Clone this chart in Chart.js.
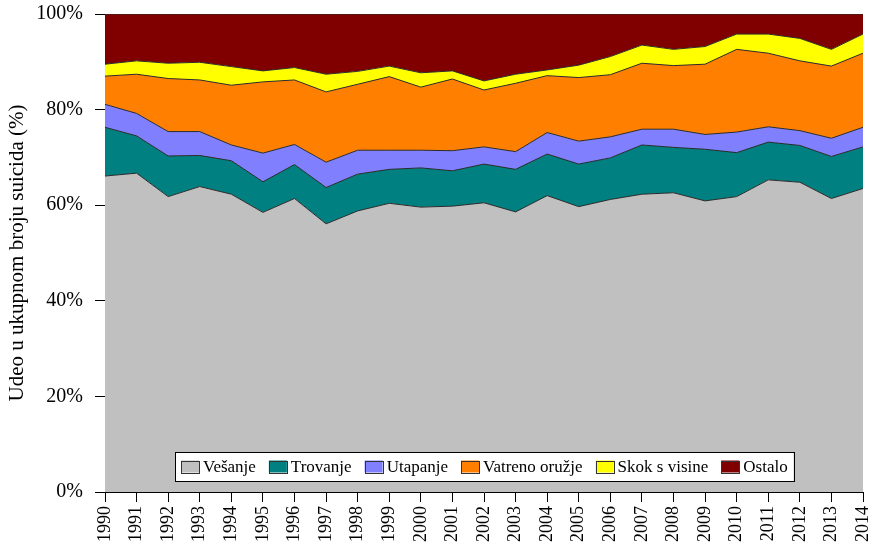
<!DOCTYPE html>
<html lang="sr">
<head>
<meta charset="UTF-8">
<title>Udeo u ukupnom broju suicida</title>
<script src="https://cdn.jsdelivr.net/npm/chart.js"></script>
<style>
  html, body { margin: 0; padding: 0; background: #fff; }
  #wrap { width: 872px; height: 548px; position: relative; }
</style>
</head>
<body>
<div id="wrap"><canvas id="c"></canvas></div>
<script>
// godine
const years = ['1990','1991','1992','1993','1994','1995','1996','1997','1998','1999','2000','2001','2002',
               '2003','2004','2005','2006','2007','2008','2009','2010','2011','2012','2013','2014'];

// udeo po nacinu (%), ocitano sa slike
const vesanje  = [66.1,66.7,61.8,63.9,62.3,58.5,61.4,56.1,58.8,60.4,59.6,59.8,60.5,58.6,62.0,59.7,61.2,62.3,62.6,60.9,61.8,65.3,64.8,61.4,63.5];
const trovanje = [10.2,7.8,8.5,6.5,7.0,6.4,7.1,7.6,7.7,7.1,8.2,7.4,8.1,8.9,8.7,8.9,8.7,10.3,9.5,10.8,9.2,7.9,7.7,8.8,8.7];
const utapanje = [4.8,4.7,5.1,5.0,3.3,6.0,4.2,5.3,5.0,4.0,3.7,4.2,3.6,3.7,4.5,4.8,4.4,3.3,3.8,3.1,4.3,3.2,3.1,3.8,4.1];
const vatreno  = [5.9,8.2,11.1,10.8,12.5,14.9,13.5,14.7,13.8,15.4,13.2,15.0,11.9,14.3,11.9,13.3,13.0,13.8,13.3,14.7,17.3,15.4,14.6,15.1,15.5];
const skok     = [2.5,2.8,3.2,3.7,3.9,2.3,2.6,3.7,2.7,2.2,3.0,1.7,1.9,1.9,1.2,2.6,3.8,3.8,3.4,3.7,3.2,4.0,4.7,3.5,4.0];
const ostalo   = [10.5,9.8,10.3,10.1,11.0,11.9,11.2,12.6,12.0,10.9,12.3,11.9,14.0,12.6,11.7,10.7,8.9,6.5,7.4,6.8,4.2,4.2,5.1,7.4,4.2];

const yTicks = [0, 20, 40, 60, 80, 100];

const FONT = '"Liberation Serif", "Times New Roman", serif';

function area(label, data, color, fill) {
  return {
    label: label,
    data: data,
    backgroundColor: color,
    borderColor: '#2a2a2a',
    borderWidth: 1,
    pointRadius: 0,
    tension: 0,
    fill: fill
  };
}

// legenda unutar grafika
const innerLegend = {
  id: 'innerLegend',
  afterDraw(chart) {
    const ctx = chart.ctx;
    const ca = chart.chartArea;
    ctx.save();
    ctx.font = '17px ' + FONT;
    const sw = 18, sh = 12, gap = 4, itemGap = 13, padX = 6;
    const items = chart.data.datasets.map(d => ({ label: d.label, color: d.backgroundColor, w: ctx.measureText(d.label).width }));
    let total = padX * 2;
    items.forEach((it, i) => { total += sw + gap + it.w + (i < items.length - 1 ? itemGap : 0); });
    const boxTop = ca.bottom - 40, boxH = 29;
    const boxLeft = Math.round((ca.left + ca.right) / 2 - total / 2);
    ctx.fillStyle = '#fff';
    ctx.fillRect(boxLeft, boxTop, total, boxH);
    ctx.strokeStyle = '#000';
    ctx.lineWidth = 1;
    ctx.strokeRect(boxLeft + 0.5, boxTop + 0.5, Math.round(total), boxH);
    let x = boxLeft + padX;
    const cy = boxTop + boxH / 2;
    ctx.textBaseline = 'middle';
    items.forEach(it => {
      ctx.fillStyle = it.color;
      ctx.fillRect(x, cy - sh / 2, sw, sh);
      ctx.strokeStyle = '#333';
      ctx.strokeRect(Math.round(x) + 0.5, Math.round(cy - sh / 2) + 0.5, sw, sh);
      x += sw + gap;
      ctx.fillStyle = '#000';
      ctx.fillText(it.label, x, cy + 1);
      x += it.w + itemGap;
    });
    ctx.restore();
  }
};

new Chart(document.getElementById('c'), {
  type: 'line',
  data: {
    labels: years,
    datasets: [
      area('Vešanje', vesanje, '#C0C0C0', 'origin'),
      area('Trovanje', trovanje, '#008080', '-1'),
      area('Utapanje', utapanje, '#8080FF', '-1'),
      area('Vatreno oružje', vatreno, '#FF8000', '-1'),
      area('Skok s visine', skok, '#FFFF00', '-1'),
      area('Ostalo', ostalo, '#800000', '-1')
    ]
  },
  options: {
    responsive: true,
    maintainAspectRatio: false,
    animation: false,
    layout: { padding: { top: 14, right: 9, left: 0, bottom: 0 } },
    plugins: {
      legend: { display: false },
      tooltip: { enabled: false }
    },
    elements: { line: { clip: false } },
    scales: {
      x: {
        offset: false,
        grid: { drawOnChartArea: false, drawTicks: true, tickLength: 10, color: '#000' },
        border: { display: true, color: '#000', width: 1 },
        ticks: {
          color: '#000',
          font: { family: FONT, size: 18 },
          minRotation: 90,
          maxRotation: 90,
          autoSkip: false,
          padding: 4
        },
        afterFit(scale) {
          scale.height = 56;
          scale.paddingLeft = 0;
          scale.paddingRight = 0;
        }
      },
      y: {
        stacked: true,
        min: 0,
        max: 100,
        afterBuildTicks(scale) { scale.ticks = yTicks.map(v => ({ value: v })); },
        grid: { drawOnChartArea: false, drawTicks: true, tickLength: 10, color: '#000' },
        border: { display: true, color: '#000', width: 1 },
        ticks: {
          color: '#000',
          font: { family: FONT, size: 20 },
          padding: 12,
          callback: v => v + '%'
        },
        title: {
          display: true,
          text: 'Udeo u ukupnom broju suicida (%)',
          color: '#000',
          font: { family: FONT, size: 21 },
          padding: { top: 5, bottom: 0 }
        },
        afterFit(scale) {
          scale.width = 105;
          scale.paddingTop = 0;
          scale.paddingBottom = 0;
        }
      }
    }
  },
  plugins: [innerLegend]
});
</script>
</body>
</html>
